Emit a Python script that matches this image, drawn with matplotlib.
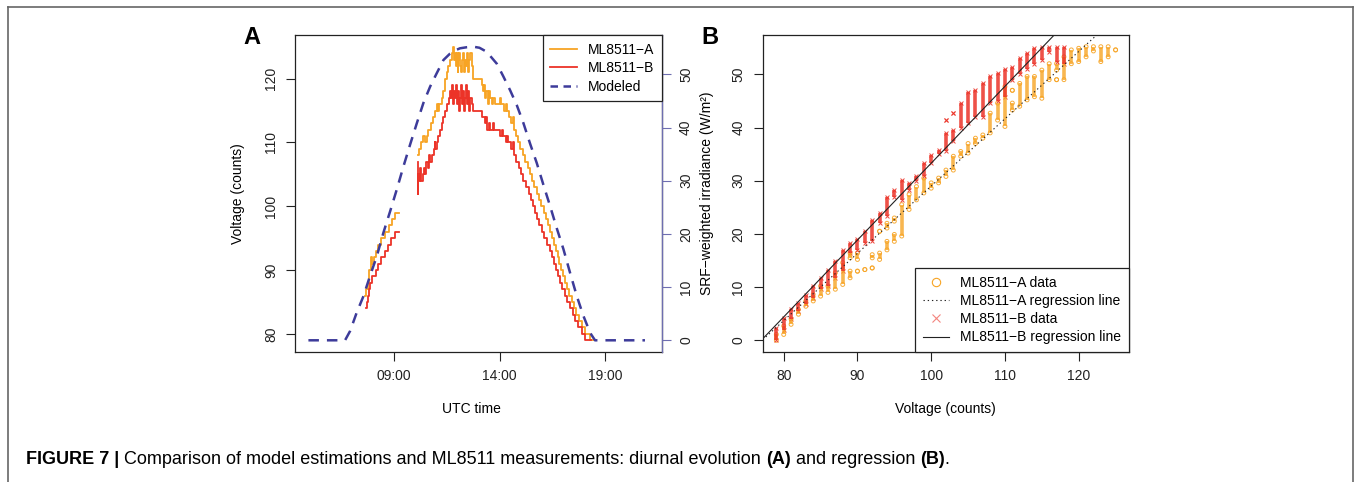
import numpy as np
import matplotlib
matplotlib.use("Agg")
import matplotlib.pyplot as plt
from matplotlib.lines import Line2D

plt.rcParams['font.family'] = ['Liberation Sans', 'DejaVu Sans']

# ---------------- Panel A data ----------------
# sensor A (orange): step change points (decimal UTC hours, counts)
A_morning_t = [7.64, 7.70, 7.77, 7.85, 7.92, 7.98, 8.05, 8.15, 8.27, 8.42, 8.57, 8.78, 8.93, 9.05, 9.25]
A_morning_v = [86, 87, 88, 90, 92, 91, 92, 93, 94, 95, 96, 97, 98, 99, 99]
A_day_t = [10.13, 10.20, 10.30, 10.40, 10.50, 10.55, 10.63, 10.75, 10.87, 10.95, 11.03, 11.10, 11.15, 11.27,
           11.35, 11.42, 11.50, 11.58, 11.66, 11.75, 11.80, 11.83, 11.88, 11.92, 11.97, 12.02, 12.06, 12.10,
           12.15, 12.20, 12.24, 12.28, 12.32, 12.37, 12.42, 12.47, 12.52, 12.57, 12.62, 12.68, 12.76, 13.16,
           13.22, 13.26, 13.32, 13.38, 13.45, 13.50, 13.56, 13.62, 13.70, 13.78, 13.90, 14.00, 14.05, 14.20,
           14.30, 14.35, 14.45, 14.55, 14.62, 14.68, 14.78, 14.88, 14.98, 15.10, 15.22, 15.32, 15.42, 15.55,
           15.65, 15.78, 15.88, 15.98, 16.08, 16.18, 16.30, 16.40, 16.50, 16.58, 16.66, 16.74, 16.82, 16.90,
           16.98, 17.08, 17.18, 17.28, 17.40, 17.50, 17.62, 17.75, 17.88, 18.05, 18.25, 18.45]
A_day_v = [108, 109, 110, 111, 110, 111, 112, 113, 114, 115, 116, 115, 116, 117,
           118, 120, 121, 122, 123, 124, 125, 123, 124, 122, 124, 121, 123, 124,
           122, 121, 123, 124, 121, 123, 122, 124, 121, 123, 124, 122, 120, 119,
           118, 119, 117, 118, 116, 118, 117, 116, 117, 116, 116, 117, 116, 115,
           116, 115, 114, 113, 114, 112, 111, 110, 109, 108, 107, 106, 105, 104,
           103, 102, 101, 100, 99, 98, 97, 96, 95, 94, 93, 92, 91, 90,
           89, 88, 87, 86, 85, 84, 83, 82, 81, 80, 79, 79]

# sensor B (red)
B_morning_t = [7.69, 7.74, 7.77, 7.82, 7.88, 7.95, 8.15, 8.27, 8.42, 8.57, 8.73, 8.89, 9.06, 9.25]
B_morning_v = [84, 85, 86, 87, 88, 89, 90, 91, 92, 93, 94, 95, 96, 96]
B_day_t = [10.13, 10.15, 10.17, 10.20, 10.25, 10.30, 10.36, 10.42, 10.48, 10.54, 10.60, 10.66, 10.72, 10.80,
           10.88, 10.93, 10.97, 11.03, 11.10, 11.18, 11.26, 11.34, 11.42, 11.50, 11.59, 11.66, 11.72, 11.76,
           11.80, 11.85, 11.90, 11.95, 12.00, 12.04, 12.08, 12.13, 12.18, 12.22, 12.27, 12.32, 12.37, 12.42,
           12.47, 12.52, 12.57, 12.62, 12.68, 12.76, 13.16, 13.30, 13.36, 13.42, 13.48, 13.55, 13.70, 13.75,
           14.00, 14.10, 14.16, 14.30, 14.36, 14.42, 14.55, 14.62, 14.68, 14.80, 14.90, 15.00, 15.12, 15.25,
           15.38, 15.48, 15.58, 15.68, 15.78, 15.88, 16.00, 16.12, 16.24, 16.36, 16.46, 16.56, 16.66, 16.76,
           16.86, 16.96, 17.08, 17.20, 17.32, 17.45, 17.58, 17.72, 17.88, 18.05, 18.30]
B_day_v = [107, 102, 105, 104, 106, 104, 105, 106, 105, 107, 106, 108, 107, 108,
           109, 110, 109, 110, 111, 112, 113, 114, 115, 116, 117, 118, 117, 119,
           116, 118, 117, 119, 116, 118, 115, 117, 119, 116, 118, 115, 117, 119,
           116, 118, 115, 117, 116, 115, 114, 113, 114, 112, 113, 112, 113, 112,
           111, 112, 111, 110, 111, 110, 109, 110, 108, 107, 106, 105, 104, 103,
           102, 101, 100, 99, 98, 97, 96, 95, 94, 93, 92, 91, 90, 89,
           88, 87, 86, 85, 84, 83, 82, 81, 80, 79, 79]

# modeled SRF-weighted irradiance (W/m2)
model_t = [4.97, 6.70, 6.94, 7.25, 7.57, 7.88, 8.20, 8.51, 8.83, 9.14, 9.46, 9.77, 10.09, 10.40, 10.72,
           11.03, 11.35, 11.66, 11.90, 12.13, 12.45, 12.76, 13.05, 13.39, 13.87, 14.18, 14.50, 14.81, 15.13,
           15.44, 15.76, 16.07, 16.39, 16.70, 17.02, 17.33, 17.65, 17.96, 18.28, 18.51, 20.87]
model_w = [0, 0, 1.75, 5.2, 8.3, 12.1, 15.8, 20.2, 24.25, 28.3, 32.7, 36.75, 40.8, 44.6, 47.7,
           50.2, 52.7, 53.9, 54.5, 54.9, 55.1, 55.2, 55.0, 54.25, 52.0, 49.6, 47.0, 44.25, 40.8,
           37.0, 33.3, 29.25, 25.2, 21.1, 17.1, 12.7, 8.3, 4.6, 1.4, 0, 0]

time_ticks = [9, 14, 19]
time_labels = ["09:00", "14:00", "19:00"]

# ---------------- Panel B data ----------------
# vertical clusters: voltage, lowest and highest modeled irradiance
orgB_v = [79, 80, 81, 82, 83, 84, 85, 86, 87, 88, 89, 89, 90, 90, 91, 92, 92, 93, 93, 94, 94, 95, 95, 96,
          97, 98, 99, 100, 101, 102, 103, 104, 105, 106, 107, 108, 109, 110, 111, 111, 112, 113, 114, 115,
          116, 117, 117, 118, 119, 120, 121, 122, 123, 124, 125]
orgB_lo = [0.0, 1.1, 3.0, 4.9, 6.4, 7.4, 8.3, 9.0, 9.6, 10.5, 11.75, 15.5, 13.0, 15.2, 13.3, 13.6, 15.5, 15.2,
           20.5, 17.0, 21.1, 18.6, 22.4, 19.6, 24.6, 26.4, 27.7, 28.6, 29.6, 30.8, 32.0, 34.6, 35.2, 37.0,
           38.0, 39.0, 41.4, 40.2, 43.3, 47.0, 44.0, 45.2, 45.8, 45.5, 49.0, 49.0, 50.8, 49.0, 52.0, 52.4,
           53.3, 54.4, 52.4, 53.3, 54.6]
orgB_hi = [1.1, 2.7, 4.0, 5.8, 7.4, 8.6, 10.2, 10.2, 12.7, 14.6, 13.0, 16.4, 13.0, 16.4, 13.3, 13.6, 16.1, 16.4,
           20.5, 18.6, 22.0, 19.9, 23.0, 25.5, 27.4, 28.9, 30.5, 29.6, 30.5, 32.0, 34.6, 35.5, 37.0, 38.0,
           38.6, 42.7, 44.6, 47.7, 44.6, 47.0, 48.3, 49.6, 49.6, 50.8, 52.0, 49.0, 52.0, 53.3, 54.6, 54.9,
           55.2, 55.2, 55.2, 55.2, 54.6]

redB_v = [79, 80, 81, 82, 83, 84, 85, 86, 87, 88, 89, 90, 91, 92, 93, 94, 95, 96, 97, 98, 99, 100, 101,
          102, 102, 103, 103, 104, 105, 106, 107, 108, 109, 110, 111, 112, 113, 114, 115, 116, 117, 118]
redB_lo = [0.0, 2.0, 4.0, 5.5, 6.75, 8.0, 9.6, 10.2, 11.75, 13.0, 16.4, 17.0, 18.3, 18.6, 22.0, 23.3, 27.0,
           26.4, 28.3, 30.0, 30.8, 33.3, 35.0, 35.5, 41.4, 37.4, 42.8, 40.0, 40.8, 42.0, 42.0, 44.6, 45.0,
           45.8, 49.0, 50.0, 51.0, 52.0, 52.7, 54.25, 52.4, 52.0]
redB_hi = [2.4, 4.25, 5.8, 7.0, 8.6, 10.2, 11.75, 13.3, 14.9, 17.0, 18.3, 19.0, 20.5, 22.7, 24.0, 27.0, 28.3,
           30.2, 29.6, 30.8, 33.3, 34.9, 35.8, 39.0, 41.4, 39.6, 42.8, 44.6, 46.75, 47.0, 48.3, 49.6, 50.2,
           51.0, 51.4, 53.0, 54.0, 54.9, 55.2, 55.2, 55.2, 55.2]

# regression lines: intercept, slope
regA = (-97.5, 1.265)
regB = (-111.2, 1.445)

ORANGE = '#F7A424'
RED = '#EC3328'
NAVY = '#3D3B9A'
AXBLUE = '#6E6EB0'

W, H = 1354, 482
fig = plt.figure(figsize=(W / 100, H / 100), dpi=100)

def fx(px):
    return px / W

def fy(py):
    return 1 - py / H

axA = fig.add_axes([fx(295.3), fy(352), fx(661.7) - fx(295.3), fy(35) - fy(352)])
axB = fig.add_axes([fx(762.7), fy(352), fx(1128.7) - fx(762.7), fy(35) - fy(352)])
axAr = axA.twinx()

# ---- panel A ----
for t, v in ((A_morning_t, A_morning_v), (A_day_t, A_day_v)):
    axA.plot(t, v, drawstyle='steps-post', color=ORANGE, lw=1.3)
for t, v in ((B_morning_t, B_morning_v), (B_day_t, B_day_v)):
    axA.plot(t, v, drawstyle='steps-post', color=RED, lw=1.3)
axAr.plot(model_t, model_w, color=NAVY, lw=1.8, linestyle=(0, (4.2, 3.2)))

axA.set_xlim(4.35, 21.66)
axA.set_ylim(77.16, 126.84)
axAr.set_ylim(-2.2, 57.4)
axA.set_xticks(time_ticks)
axA.set_xticklabels(time_labels)
axA.set_yticks([80, 90, 100, 110, 120])
axAr.set_yticks([0, 10, 20, 30, 40, 50])

for ax in (axA, axB):
    for s in ax.spines.values():
        s.set_color('#222222')
        s.set_linewidth(0.9)
    ax.tick_params(direction='out', length=6.5, width=0.8, pad=6, labelsize=10, colors='#222222')
    for lbl in ax.get_yticklabels():
        lbl.set_rotation(90)
        lbl.set_va('center')
for s in axAr.spines.values():
    s.set_visible(False)
axAr.spines['right'].set_visible(True)
axAr.spines['right'].set_color(AXBLUE)
axAr.spines['right'].set_linewidth(0.9)
axAr.tick_params(direction='out', length=6.5, width=0.8, pad=6, labelsize=10, color=AXBLUE, labelcolor='#222222')
for lbl in axAr.get_yticklabels():
    lbl.set_rotation(90)
    lbl.set_va('center')

handlesA = [Line2D([], [], color=ORANGE, lw=1.3),
            Line2D([], [], color=RED, lw=1.3),
            Line2D([], [], color=NAVY, lw=1.8, linestyle=(0, (3, 2.2)))]
legA = axAr.legend(handlesA, ['ML8511\u2212A', 'ML8511\u2212B', 'Modeled'], loc='upper right',
                   bbox_to_anchor=(1, 1), borderaxespad=0, fancybox=False, framealpha=1,
                   edgecolor='#222222', fontsize=10, handlelength=1.9, handletextpad=0.8,
                   labelspacing=0.32, borderpad=0.55)
legA.get_frame().set_linewidth(0.9)

# ---- panel B ----
axB.vlines(orgB_v, orgB_lo, orgB_hi, color=ORANGE, lw=2.6, alpha=0.8)
axB.scatter(orgB_v + orgB_v, orgB_lo + orgB_hi, marker='o', s=8, facecolors='none',
            edgecolors=ORANGE, linewidths=0.7, alpha=0.9)
axB.vlines(redB_v, redB_lo, redB_hi, color=RED, lw=2.6, alpha=0.85)
axB.scatter(redB_v + redB_v, redB_lo + redB_hi, marker='x', s=8, color=RED, linewidths=0.7, alpha=0.9)
axB.axline((0, regA[0]), slope=regA[1], color='#222222', lw=0.8, linestyle=(0, (1.2, 2.6)))
axB.axline((0, regB[0]), slope=regB[1], color='#222222', lw=0.8)

axB.set_xlim(77.15, 126.78)
axB.set_ylim(-2.2, 57.4)
axB.set_xticks([80, 90, 100, 110, 120])
axB.set_yticks([0, 10, 20, 30, 40, 50])
for lbl in axB.get_yticklabels():
    lbl.set_rotation(90)
    lbl.set_va('center')

handlesB = [Line2D([], [], color=ORANGE, marker='o', markerfacecolor='none', linestyle='none', markersize=6, mew=0.8),
            Line2D([], [], color='#222222', lw=0.8, linestyle=(0, (1.2, 2.6))),
            Line2D([], [], color=RED, marker='x', linestyle='none', markersize=6, mew=0.8, alpha=0.6),
            Line2D([], [], color='#222222', lw=0.8)]
legB = axB.legend(handlesB, ['ML8511\u2212A data', 'ML8511\u2212A regression line',
                             'ML8511\u2212B data', 'ML8511\u2212B regression line'],
                  loc='lower right', bbox_to_anchor=(1, 0), borderaxespad=0, fancybox=False,
                  framealpha=1, edgecolor='#222222', fontsize=10, handlelength=1.9,
                  handletextpad=0.8, labelspacing=0.3, borderpad=0.55)
legB.get_frame().set_linewidth(0.9)

# ---- labels ----
fig.text(fx(238.3), fy(193.5), 'Voltage (counts)', rotation=90, ha='center', va='center', fontsize=10)
fig.text(fx(471), fy(409), 'UTC time', ha='center', va='center', fontsize=10)
fig.text(fx(706.5), fy(193.5), 'SRF\u2212weighted irradiance (W/m\u00b2)', rotation=90, ha='center',
         va='center', fontsize=10)
fig.text(fx(945.7), fy(409), 'Voltage (counts)', ha='center', va='center', fontsize=10)
fig.text(fx(252), fy(37), 'A', ha='center', va='center', fontsize=17, fontweight='bold')
fig.text(fx(710), fy(37), 'B', ha='center', va='center', fontsize=17, fontweight='bold')

# ---- caption ----
parts = [("FIGURE 7 |", 'bold'),
         (" Comparison of model estimations and ML8511 measurements: diurnal evolution ", 'normal'),
         ("(A)", 'bold'), (" and regression ", 'normal'), ("(B)", 'bold'), (".", 'normal')]
prev = fig.text(fx(26), fy(459), parts[0][0], fontsize=13, fontweight=parts[0][1], va='center', ha='left')
for txt, wt in parts[1:]:
    prev = axA.annotate(txt, xy=(1, 0), xycoords=prev, ha='left', va='bottom', fontsize=13,
                        fontweight=wt, annotation_clip=False)

# ---- page frame ----
fc = '#666666'
fig.add_artist(Line2D([fx(8), fx(8)], [0, fy(6.5)], color=fc, lw=1.2, transform=fig.transFigure))
fig.add_artist(Line2D([fx(8), fx(1353)], [fy(6.5), fy(6.5)], color=fc, lw=1.2, transform=fig.transFigure))
fig.add_artist(Line2D([fx(1353), fx(1353)], [0, fy(6.5)], color=fc, lw=1.2, transform=fig.transFigure))

fig.savefig('out.png', dpi=100)
